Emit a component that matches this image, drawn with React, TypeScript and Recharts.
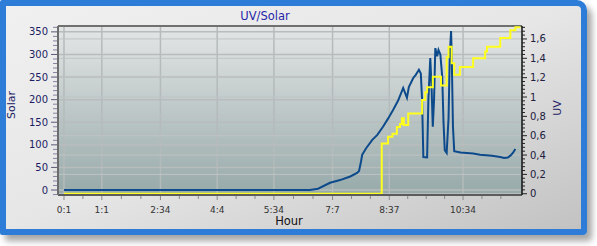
import { LineChart, Line, XAxis, YAxis, CartesianGrid, ReferenceLine } from 'recharts';

// time is in minutes since midnight
const solarTime = [
  1, 391, 404, 423, 439, 455, 466, 469, 472, 474, 480, 490, 498, 507, 515, 523, 531, 539, 542, 545,
  548, 555, 559, 564, 567, 569, 571, 577, 579, 582, 584, 586, 588, 590, 593, 595, 598, 601, 603, 605,
  608, 611, 613, 615, 616, 618, 620, 630, 640, 650, 661, 680, 693, 699, 705, 709, 713, 717,
];
const solarValue = [
  0, 0, 3, 16, 22, 30, 38, 42, 62, 78, 92, 111, 122, 140, 158, 177, 198, 226, 215, 204,
  228, 248, 255, 266, 258, 200, 73, 72, 200, 292, 230, 140, 200, 314, 296, 310, 300, 250, 150, 88,
  82, 160, 300, 352, 300, 140, 86, 83, 82, 81, 78, 76, 73, 71, 72, 76, 82, 91,
];

const uvTime = [
  1, 505, 515, 522, 529, 534, 537, 540, 547, 569, 574, 577, 586, 599, 608, 611, 616, 620, 629, 650,
  669, 672, 693, 709, 717, 725,
];
const uvValue = [
  0, 0.52, 0.59, 0.62, 0.69, 0.72, 0.78, 0.71, 0.83, 0.97, 1.05, 1.1, 1.21, 1.12, 1.41, 1.52, 1.35, 1.23, 1.31, 1.4,
  1.47, 1.52, 1.61, 1.69, 1.72, 1.72,
];

const hourTicks = [1, 61, 154, 244, 334, 427, 517, 634];
const solarTicks = [0, 50, 100, 150, 200, 250, 300, 350];
const uvTicks = [0, 0.2, 0.4, 0.6, 0.8, 1, 1.2, 1.4, 1.6];

const solarData = solarTime.map((t, i) => ({ t, solar: solarValue[i] }));
const uvData = uvTime.map((t, i) => ({ t, uv: uvValue[i] }));

// minor ticks
const hourMinor: number[] = [];
for (let i = 0; i < hourTicks.length - 1; i++) {
  const a = hourTicks[i];
  const b = hourTicks[i + 1];
  const n = Math.max(1, Math.round((b - a) / 30));
  for (let k = 1; k < n; k++) hourMinor.push(a + ((b - a) * k) / n);
}
hourMinor.push(664, 694);
const xTicks = [...hourTicks, ...hourMinor].sort((a, b) => a - b);
const leftTicks = Array.from({ length: 38 }, (_, i) => -10 + i * 10);
const rightTicks = Array.from({ length: 44 }, (_, i) => +(i * 0.04).toFixed(2));

const FONT = "'DejaVu Sans', Verdana, sans-serif";

function fmtHour(m: number) {
  return `${Math.floor(m / 60)}:${m % 60}`;
}

function XTick({ x, y, payload }: any) {
  const v = payload.value;
  const major = hourTicks.includes(v);
  return (
    <g>
      <line x1={x} x2={x} y1={y + 1} y2={y + (major ? 5 : 4)} stroke="#8a8a8a" />
      {major && (
        <text x={x} y={y + 18} textAnchor="middle" fontSize={9} fontFamily={FONT} fill="#333">
          {fmtHour(v)}
        </text>
      )}
    </g>
  );
}

function LeftTick({ x, y, payload }: any) {
  const v = payload.value;
  const major = v % 50 === 0;
  return (
    <g>
      <line x1={x - (major ? 7 : 5)} x2={x - 1} y1={y} y2={y} stroke={major ? '#5a5a7a' : '#8484a4'} />
      {major && (
        <text x={x - 10} y={y + 3.5} textAnchor="end" fontSize={10} fontFamily={FONT} fill="#1c1c64">
          {v}
        </text>
      )}
    </g>
  );
}

function RightTick({ x, y, payload }: any) {
  const v = payload.value;
  const major = Math.abs(v / 0.2 - Math.round(v / 0.2)) < 1e-6;
  return (
    <g>
      <line x1={x} x2={x + (major ? 5 : 3)} y1={y} y2={y} stroke="#222" />
      {major && (
        <text x={x + 8} y={y + 3.5} textAnchor="start" fontSize={10} fontFamily={FONT} fill="#202040">
          {String(Math.round(v * 10) / 10).replace('.', ',')}
        </text>
      )}
    </g>
  );
}

export default function App() {
  return (
    <div style={{ position: 'absolute', left: 0, top: 0, width: 597, height: 246 }}>
      <div
        style={{
          position: 'absolute',
          left: 0,
          top: 0,
          width: 575,
          height: 223,
          border: '6px solid #2c7cd8',
          borderRadius: '2px 10px 4px 2px',
          background: 'linear-gradient(to bottom right, #f0f0f0 0%, #e6e6e6 50%, #c2c2c2 100%)',
          boxShadow: '5px 6px 6px rgba(0,0,0,0.35)',
        }}
      />
      <div style={{ position: 'absolute', left: 0, top: 0 }}>
        <LineChart width={597} height={246} data={solarData} margin={{ top: 26, right: 35, bottom: 31, left: 18 }}>
          <defs>
            <linearGradient id="plotBg" x1="0" y1="0" x2="0" y2="1">
              <stop offset="0%" stopColor="#e4e6e6" />
              <stop offset="100%" stopColor="#97a9a9" />
            </linearGradient>
          </defs>
          <CartesianGrid yAxisId="left" horizontal={false} vertical={false} fill="url(#plotBg)" fillOpacity={1} />
          {hourTicks.map((v) => (
            <ReferenceLine key={'x' + v} x={v} yAxisId="left" stroke="#b5baba" strokeWidth={1.5} />
          ))}
          {solarTicks.map((v) => (
            <ReferenceLine key={'l' + v} y={v} yAxisId="left" stroke="#b8bcbc" strokeWidth={1.5} />
          ))}
          {uvTicks.map((v) => (
            <ReferenceLine key={'r' + v} y={v} yAxisId="right" stroke="#bfc3c3" strokeWidth={1} />
          ))}
          <ReferenceLine y={363} yAxisId="left" stroke="#707070" strokeWidth={2} />
          <XAxis
            dataKey="t"
            type="number"
            domain={[-8.5, 727.5]}
            allowDataOverflow
            ticks={xTicks}
            interval={0}
            height={20}
            tickSize={0}
            tickMargin={0}
            tickLine={false}
            tick={<XTick />}
            axisLine={{ stroke: '#5c5c5c', strokeWidth: 2 }}
          />
          <YAxis
            yAxisId="left"
            orientation="left"
            type="number"
            width={40}
            domain={[-11, 363]}
            allowDataOverflow
            ticks={leftTicks}
            interval={0}
            tickSize={0}
            tickMargin={0}
            tickLine={false}
            tick={<LeftTick />}
            axisLine={{ stroke: '#6c6c6c', strokeWidth: 2 }}
          />
          <YAxis
            yAxisId="right"
            orientation="right"
            type="number"
            width={40}
            domain={[-0.013, 1.734]}
            allowDataOverflow
            ticks={rightTicks}
            interval={0}
            tickSize={0}
            tickMargin={0}
            tickLine={false}
            tick={<RightTick />}
            axisLine={{ stroke: '#111', strokeWidth: 1.5 }}
          />
          <Line
            yAxisId="left"
            data={solarData}
            dataKey="solar"
            type="linear"
            stroke="#0c4a8c"
            strokeWidth={2}
            dot={false}
            isAnimationActive={false}
          />
          <Line
            yAxisId="right"
            data={uvData}
            dataKey="uv"
            type="stepAfter"
            stroke="#ffff1e"
            strokeWidth={2}
            dot={false}
            isAnimationActive={false}
          />
        </LineChart>
      </div>
      <svg width={597} height={246} style={{ position: 'absolute', left: 0, top: 0, pointerEvents: 'none' }}>
        <text x={265} y={20} textAnchor="middle" fontSize={11.5} fontFamily={FONT} fill="#2626a8">
          UV/Solar
        </text>
        <text
          x={0}
          y={0}
          transform="translate(15 105) rotate(-90)"
          textAnchor="middle"
          fontSize={11}
          fontFamily={FONT}
          fill="#1c1c64"
        >
          Solar
        </text>
        <text
          x={0}
          y={0}
          transform="translate(561 108) rotate(-90)"
          textAnchor="middle"
          fontSize={11}
          fontFamily={FONT}
          fill="#1c1c64"
        >
          UV
        </text>
        <text x={289} y={225} textAnchor="middle" fontSize={11.5} fontFamily={FONT} fill="#111">
          Hour
        </text>
      </svg>
    </div>
  );
}
